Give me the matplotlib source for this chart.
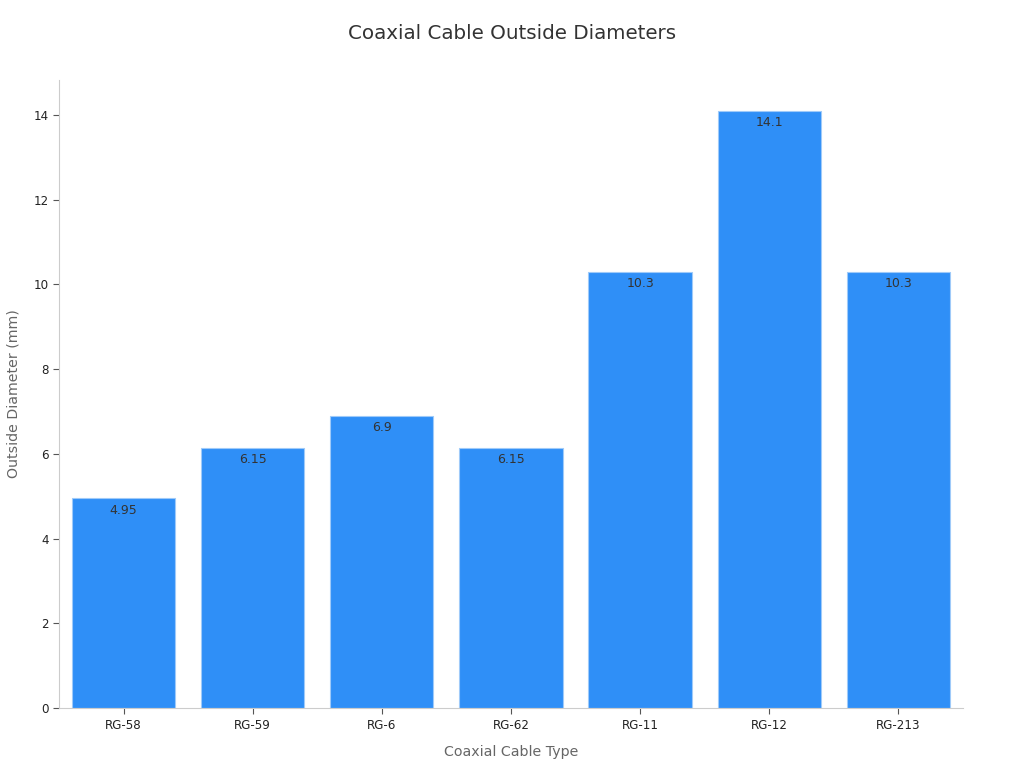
import matplotlib
matplotlib.use('Agg')
import matplotlib.pyplot as plt

# cable types and outside diameters (mm)
cables = ['RG-58', 'RG-59', 'RG-6', 'RG-62', 'RG-11', 'RG-12', 'RG-213']
diameters = [4.95, 6.15, 6.9, 6.15, 10.3, 14.1, 10.3]
value_labels = ['4.95', '6.15', '6.9', '6.15', '10.3', '14.1', '10.3']

fig = plt.figure(figsize=(10.24, 7.68), dpi=100)
ax = fig.add_axes([0.0576, 0.078, 0.8828, 0.818])

bars = ax.bar(range(len(cables)), diameters, width=0.8,
              color='#2f8ff7', edgecolor='#9fcaf9', linewidth=0.8)

for b, lab in zip(bars, value_labels):
    ax.annotate(lab, xy=(b.get_x() + b.get_width() / 2, b.get_height()),
                xytext=(0, -4), textcoords='offset points',
                ha='center', va='top', fontsize=9, color='#333333')

ax.set_xlim(-0.5, 6.5)
ax.set_ylim(0, 14.83)
ax.set_xticks(range(len(cables)))
ax.set_xticklabels(cables)
ax.set_yticks([0, 2, 4, 6, 8, 10, 12, 14])

for s in ['top', 'right']:
    ax.spines[s].set_visible(False)
for s in ['left', 'bottom']:
    ax.spines[s].set_color('#cccccc')
    ax.spines[s].set_linewidth(0.8)

ax.tick_params(axis='both', labelsize=8.6, colors='#222222', length=4,
               width=0.8, color='#555555')
ax.set_xlabel('Coaxial Cable Type', fontsize=10.2, color='#666666', labelpad=10)
ax.set_ylabel('Outside Diameter (mm)', fontsize=10.2, color='#666666', labelpad=9)

fig.text(0.5, 0.957, 'Coaxial Cable Outside Diameters', fontsize=14.3,
         color='#333333', ha='center', va='center')

fig.savefig('out.png', dpi=100)
